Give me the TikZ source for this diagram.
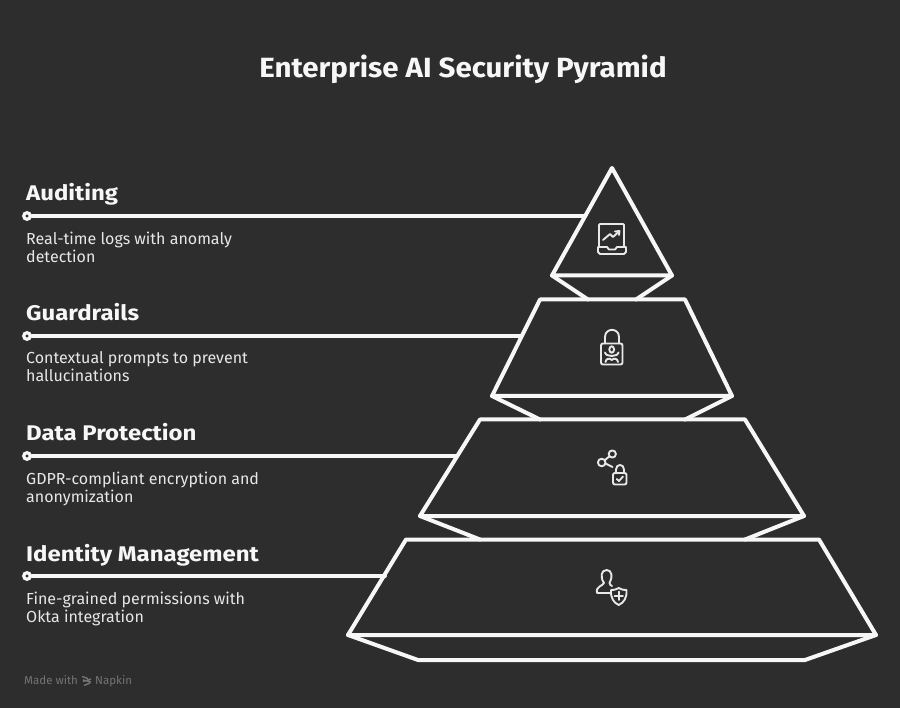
\documentclass[tikz,border=0pt]{standalone}
\usepackage{fontspec}
\setmainfont{Fira Sans}
\newfontfamily\headfont[FakeStretch=1.13]{Fira Sans}
\newfontfamily\titlefont[FakeStretch=1.06]{Fira Sans}
\definecolor{bgdark}{HTML}{2D2D2D}
\definecolor{chalk}{HTML}{F7F7F7}
\definecolor{softchalk}{HTML}{E8E8E8}
\definecolor{footgrey}{HTML}{747474}
\tikzset{
    tier/.style={chalk,line width=4pt,line join=round,line cap=round},
    leader/.style={chalk,line width=3.8pt,line cap=round},
    icon/.style={softchalk,line width=1.9pt,line join=round,line cap=round},
    dotnode/.style={circle,fill=chalk,inner sep=0pt,minimum size=10pt},
    headtext/.style={anchor=base west,inner sep=0pt,chalk,font=\headfont\fontsize{21.2}{24}\selectfont\bfseries},
    desctext/.style={anchor=north west,inner sep=0pt,softchalk,align=left,font=\fontsize{16}{18}\selectfont},
    foottext/.style={anchor=base west,inner sep=0pt,footgrey,font=\fontsize{11.5}{13}\selectfont}
}
\begin{document}
\begin{tikzpicture}[x=1pt,y=-1pt]
    \fill[bgdark] (0,0) rectangle (900,708);
    \useasboundingbox (0,0) rectangle (900,708);
    \node[anchor=base,inner sep=0pt,chalk,font=\titlefont\fontsize{27.8}{32}\selectfont\bfseries] (title) at (463,78) {Enterprise AI Security Pyramid};

    % left column
    \node[headtext] (headaudit) at (26,201) {Auditing};
    \node[desctext] (descaudit) at (26,231.5) {Real-time logs with anomaly\\detection};
    \node[headtext] (headguard) at (26,321) {Guardrails};
    \node[desctext] (descguard) at (26,351.5) {Contextual prompts to prevent\\hallucinations};
    \node[headtext] (headdata) at (26,441) {Data Protection};
    \node[desctext] (descdata) at (26,471.5) {GDPR-compliant encryption and\\anonymization};
    \node[headtext] (headid) at (26,561) {Identity Management};
    \node[desctext] (descid) at (26,591.5) {Fine-grained permissions with\\Okta integration};

    % leaders
    \node[dotnode] (dotaudit) at (27,216) {};
    \node[dotnode] (dotguard) at (27,336) {};
    \node[dotnode] (dotdata) at (27,456) {};
    \node[dotnode] (dotid) at (27,576) {};
    \coordinate (endaudit) at (585,216);
    \coordinate (endguard) at (521,336);
    \coordinate (enddata) at (457,456);
    \coordinate (endid) at (385,576);
    \draw[leader] (dotaudit) -- (endaudit);
    \draw[leader] (dotguard) -- (endguard);
    \draw[leader] (dotdata) -- (enddata);
    \draw[leader] (dotid) -- (endid);
    \fill[bgdark] (27,216) circle [radius=1.6];
    \fill[bgdark] (27,336) circle [radius=1.6];
    \fill[bgdark] (27,456) circle [radius=1.6];
    \fill[bgdark] (27,576) circle [radius=1.6];

    % pyramid
    \draw[tier] (612,168) -- (672,275.5) -- (552,275.5) -- cycle;
    \draw[tier] (552,275.5) -- (588,299.5);
    \draw[tier] (672,275.5) -- (636,299.5);
    \draw[tier] (540,299.5) -- (685,299.5) -- (732,396) -- (492,396) -- cycle;
    \draw[tier] (492,396) -- (540,419.5);
    \draw[tier] (732,396) -- (685,419.5);
    \draw[tier] (480,419.5) -- (745,419.5) -- (804,516) -- (420,516) -- cycle;
    \draw[tier] (420,516) -- (480,539.5);
    \draw[tier] (804,516) -- (745,539.5);
    \draw[tier] (406,539.5) -- (819,539.5) -- (876,635) -- (348,635) -- cycle;
    \draw[tier] (348,635) -- (418,660) -- (805,660) -- (876,635);

    % laptop icon
    \draw[icon] (599,247) -- (599,225) -- (600,224) -- (623,224) -- (624,225) -- (624,247);
    \draw[icon] (598,247) -- (607,247) -- (609,249.5) -- (615,249.5) -- (617,247) -- (626,247) -- (626,252) -- (624,254) -- (600,254) -- (598,252) -- cycle;
    \draw[icon] (603,240) -- (610,234) -- (613,237) -- (619,231.5);
    \draw[icon] (615,231.5) -- (619.5,231) -- (619,235);

    % lock icon
    \draw[icon,rounded corners=2pt] (601,343.5) rectangle (622.5,364.5);
    \draw[icon] (605,343.5) -- (605,337) .. controls (605,327.5) and (619,327.5) .. (619,337) -- (619,343.5);
    \draw[icon] (611.7,349.5) ellipse [x radius=2.4,y radius=3.2];
    \draw[icon] (605,352.5) .. controls (606,356) and (609,355) .. (611.7,356) .. controls (614.5,355) and (617.5,356) .. (618.5,352.5);
    \draw[icon] (605.5,362) .. controls (606,358) and (610,358) .. (611.7,360) .. controls (613.5,358) and (617.5,358) .. (618,362);

    % share icon
    \draw[icon] (612.3,454) circle [radius=3.6];
    \draw[icon] (601.7,462.5) circle [radius=3.8];
    \draw[icon] (609.5,456.3) -- (604.7,460.2);
    \draw[icon] (605.4,463.5) -- (612.5,467);
    \draw[icon,rounded corners=2pt] (613,473) rectangle (626.5,484.5);
    \draw[icon] (616,473) -- (616,469.5) .. controls (616,463.5) and (624,463.5) .. (624,469.5) -- (624,473);
    \draw[icon] (616.8,479) -- (619,481) -- (623,476.5);

    % user shield icon
    \draw[icon] (610,593) -- (597,593) .. controls (595.5,586) and (603,586) .. (604,583) .. controls (600,577) and (601,570) .. (606.7,570) .. controls (612,570) and (613,577) .. (609.5,583) .. controls (610,585) and (611,585.5) .. (612,586);
    \draw[icon] (611,590) .. controls (615,590) and (617,589) .. (618.7,588) .. controls (620.5,589) and (622.5,590) .. (626.5,590) .. controls (627,598) and (624,602.5) .. (618.7,605) .. controls (613.5,602.5) and (610.5,598) .. (611,590) -- cycle;
    \draw[icon] (618.7,591.5) -- (618.7,600);
    \draw[icon] (614.5,595.7) -- (623,595.7);

    % footer
    \node[foottext] (madewith) at (24,684) {Made with};
    \node[foottext] (napkin) at (95,684) {Napkin};
    \draw[footgrey,line width=1.4pt] (82,676.5) -- (88,678.5) (83,680) -- (91,682) (91,679) -- (83,681.5) (90,683) -- (84,685.5);
\end{tikzpicture}
\end{document}
